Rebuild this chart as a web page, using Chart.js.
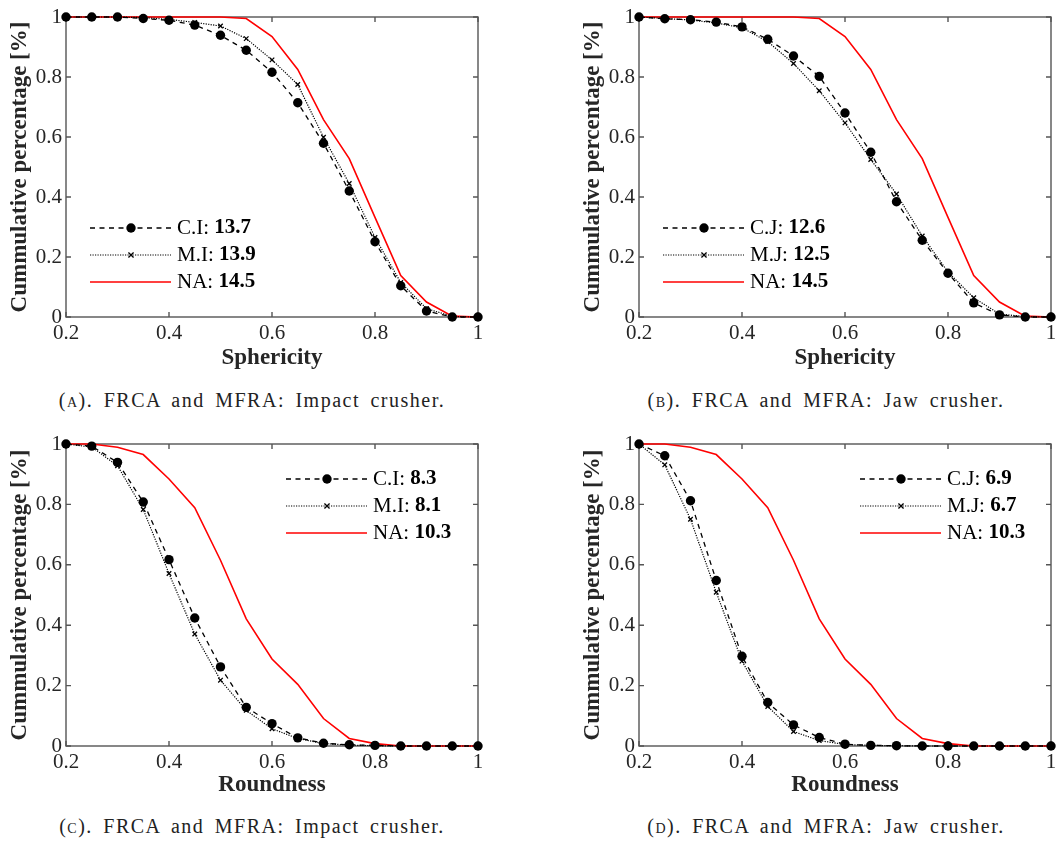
<!DOCTYPE html>
<html>
<head>
<meta charset="utf-8">
<script src="https://cdn.jsdelivr.net/npm/chart.js@4.4.1/dist/chart.umd.min.js"></script>
<style>
html, body { margin: 0; padding: 0; background: #fff; width: 1059px; height: 841px; overflow: hidden; position: relative; }
canvas { position: absolute; }
.cap { position: absolute; width: 530px; text-align: center; font-family: "Liberation Serif", serif; font-size: 20px; line-height: 20px; letter-spacing: 1.5px; word-spacing: 4px; color: #222; white-space: nowrap; }
.sc { font-variant: small-caps; }
</style>
</head>
<body>
<canvas id="cA" width="530" height="380" style="left:0;top:0"></canvas>
<canvas id="cB" width="530" height="380" style="left:573px;top:0"></canvas>
<canvas id="cC" width="530" height="380" style="left:0;top:427px"></canvas>
<canvas id="cD" width="530" height="380" style="left:573px;top:427px"></canvas>
<div class="cap" style="left:-13px;top:390px">(<span class="sc">a</span>). FRCA and MFRA: Impact crusher.</div>
<div class="cap" style="left:561px;top:390px">(<span class="sc">b</span>). FRCA and MFRA: Jaw crusher.</div>
<div class="cap" style="left:-13px;top:816px">(<span class="sc">c</span>). FRCA and MFRA: Impact crusher.</div>
<div class="cap" style="left:561px;top:816px">(<span class="sc">d</span>). FRCA and MFRA: Jaw crusher.</div>
<script>
// shape factor bins
const xs = [0.2, 0.25, 0.3, 0.35, 0.4, 0.45, 0.5, 0.55, 0.6, 0.65, 0.7, 0.75, 0.8, 0.85, 0.9, 0.95, 1.0];

// sphericity, cumulative
const sphCI = [1, 1, 1, 0.995, 0.989, 0.973, 0.939, 0.889, 0.816, 0.714, 0.579, 0.42, 0.251, 0.104, 0.02, 0, 0];
const sphMI = [1, 1, 1, 0.998, 0.992, 0.982, 0.97, 0.928, 0.857, 0.775, 0.599, 0.445, 0.265, 0.115, 0.028, 0.002, 0];
const sphCJ = [1, 0.994, 0.991, 0.983, 0.967, 0.926, 0.87, 0.802, 0.68, 0.549, 0.384, 0.256, 0.146, 0.047, 0.007, 0, 0];
const sphMJ = [1, 0.995, 0.99, 0.98, 0.964, 0.918, 0.845, 0.754, 0.647, 0.525, 0.41, 0.27, 0.15, 0.064, 0.01, 0.001, 0];
const sphNA = [1, 1, 1, 1, 1, 1, 1, 0.995, 0.935, 0.825, 0.658, 0.528, 0.332, 0.138, 0.05, 0.003, 0];

// roundness, cumulative
const rndCI = [1, 0.993, 0.939, 0.808, 0.617, 0.424, 0.262, 0.128, 0.074, 0.027, 0.009, 0.004, 0.002, 0, 0, 0, 0];
const rndMI = [1, 0.99, 0.928, 0.783, 0.571, 0.371, 0.218, 0.118, 0.057, 0.025, 0.008, 0.003, 0.001, 0, 0, 0, 0];
const rndCJ = [1, 0.961, 0.812, 0.548, 0.297, 0.144, 0.07, 0.028, 0.006, 0.002, 0.001, 0, 0, 0, 0, 0, 0];
const rndMJ = [1, 0.931, 0.751, 0.509, 0.281, 0.131, 0.048, 0.018, 0.005, 0.002, 0.001, 0, 0, 0, 0, 0, 0];
const rndNA = [1, 1, 0.989, 0.965, 0.884, 0.789, 0.615, 0.421, 0.288, 0.204, 0.091, 0.025, 0.008, 0, 0, 0, 0];

// legend names and scores
const namesImpact = ['C.I', 'M.I', 'NA'];
const namesJaw = ['C.J', 'M.J', 'NA'];
const scoresA = ['13.7', '13.9', '14.5'];
const scoresB = ['12.6', '12.5', '14.5'];
const scoresC = ['8.3', '8.1', '10.3'];
const scoresD = ['6.9', '6.7', '10.3'];

const xTicks = [0.2, 0.4, 0.6, 0.8, 1];
const yTicks = [0, 0.2, 0.4, 0.6, 0.8, 1];

const serif = '"Liberation Serif", "Times New Roman", serif';
const axisColor = '#262626';
const frameColor = '#555555';

function pts(ys) {
    return xs.map((x, i) => ({x: x, y: ys[i]}))
}

function fmt(v) {
    let r = Math.round(v * 10) / 10
    if (r === 0) return '0'
    if (r === 1) return '1'
    return r.toFixed(1)
}

// box + inward ticks like matlab
const frame = {
    id: 'frame',
    beforeDatasetsDraw(chart) {
        const {ctx, chartArea: a, scales} = chart
        ctx.save()
        ctx.strokeStyle = frameColor
        ctx.lineWidth = 1.4
        ctx.strokeRect(a.left, a.top, a.right - a.left, a.bottom - a.top)
        ctx.beginPath()
        xTicks.forEach(t => {
            let px = scales.x.getPixelForValue(t)
            ctx.moveTo(px, a.bottom); ctx.lineTo(px, a.bottom - 5)
            ctx.moveTo(px, a.top); ctx.lineTo(px, a.top + 5)
        })
        yTicks.forEach(t => {
            let py = scales.y.getPixelForValue(t)
            ctx.moveTo(a.left, py); ctx.lineTo(a.left + 5, py)
            ctx.moveTo(a.right, py); ctx.lineTo(a.right - 5, py)
        })
        ctx.stroke()
        ctx.restore()
    }
}

function marker(ctx, style, x, y, r) {
    ctx.beginPath()
    if (style === 'circle') {
        ctx.arc(x, y, r, 0, Math.PI * 2)
        ctx.fill()
    } else if (style === 'crossRot') {
        ctx.moveTo(x - r * 0.8, y - r * 0.8); ctx.lineTo(x + r * 0.8, y + r * 0.8)
        ctx.moveTo(x - r * 0.8, y + r * 0.8); ctx.lineTo(x + r * 0.8, y - r * 0.8)
        ctx.stroke()
    }
}

const boxLegend = {
    id: 'boxLegend',
    afterDatasetsDraw(chart, args, opts) {
        const {ctx, chartArea: a} = chart
        const x0 = a.left + opts.x
        const y0 = a.top + opts.y
        chart.data.datasets.forEach((ds, i) => {
            let y = y0 + i * 27
            ctx.save()
            ctx.strokeStyle = ds.borderColor
            ctx.fillStyle = ds.borderColor
            ctx.lineWidth = ds.borderWidth
            ctx.setLineDash(ds.borderDash || [])
            ctx.beginPath()
            ctx.moveTo(x0, y); ctx.lineTo(x0 + 81, y)
            ctx.stroke()
            ctx.setLineDash([])
            if (ds.pointRadius > 0) {
                ctx.lineWidth = ds.pointBorderWidth
                marker(ctx, ds.pointStyle, x0 + 41, y, ds.pointRadius)
            }
            ctx.fillStyle = '#000'
            ctx.textBaseline = 'middle'
            ctx.font = '21px ' + serif
            let label = opts.names[i] + ': '
            ctx.fillText(label, x0 + 87, y)
            let w = ctx.measureText(label).width
            ctx.font = 'bold 21px ' + serif
            ctx.fillText(opts.scores[i], x0 + 87 + w, y)
            ctx.restore()
        })
    }
}

function makeChart(id, curves, names, scores, xTitle, xHeight, legendAt) {
    new Chart(document.getElementById(id).getContext('2d'), {
        type: 'line',
        data: {
            datasets: [{
                label: names[0],
                data: pts(curves[0]),
                borderColor: '#000',
                backgroundColor: '#000',
                borderWidth: 1.3,
                borderDash: [5, 4.5],
                pointStyle: 'circle',
                pointRadius: 4.7,
                pointBorderWidth: 0,
                pointBackgroundColor: '#000',
                tension: 0,
                clip: false
            },
            {
                label: names[1],
                data: pts(curves[1]),
                borderColor: '#000',
                backgroundColor: '#000',
                borderWidth: 1.2,
                borderDash: [1.2, 1.3],
                pointStyle: 'crossRot',
                pointRadius: 3.2,
                pointBorderWidth: 1.3,
                tension: 0,
                clip: false
            },
            {
                label: names[2],
                data: pts(curves[2]),
                borderColor: '#ff0000',
                backgroundColor: '#ff0000',
                borderWidth: 1.6,
                pointRadius: 0,
                tension: 0,
                clip: false
            }]
        },
        options: {
            responsive: false,
            animation: false,
            devicePixelRatio: 1,
            layout: {padding: {left: 0, top: 17, right: 52, bottom: 0}},
            scales: {
                x: {
                    type: 'linear',
                    min: 0.2,
                    max: 1,
                    afterFit: s => { s.height = xHeight },
                    afterBuildTicks: s => { s.ticks = xTicks.map(v => ({value: v})) },
                    grid: {display: false, drawTicks: false},
                    border: {display: false},
                    ticks: {
                        padding: 4,
                        maxRotation: 0,
                        color: axisColor,
                        font: {family: serif, size: 21},
                        callback: v => fmt(v)
                    },
                    title: {
                        display: true,
                        text: xTitle,
                        color: axisColor,
                        font: {family: serif, size: 23, weight: 'bold', lineHeight: 1},
                        padding: {top: 0, bottom: 10}
                    }
                },
                y: {
                    min: 0,
                    max: 1,
                    afterFit: s => { s.width = 66 },
                    afterBuildTicks: s => { s.ticks = yTicks.map(v => ({value: v})) },
                    grid: {display: false, drawTicks: false},
                    border: {display: false},
                    ticks: {
                        padding: 4,
                        color: axisColor,
                        font: {family: serif, size: 21},
                        callback: v => fmt(v)
                    },
                    title: {
                        display: true,
                        text: 'Cummulative percentage [%]',
                        color: axisColor,
                        font: {family: serif, size: 23, weight: 'bold', lineHeight: 1},
                        padding: {top: 9, bottom: 0}
                    }
                }
            },
            plugins: {
                legend: {display: false},
                tooltip: {enabled: false},
                boxLegend: {x: legendAt[0], y: legendAt[1], names: names, scores: scores}
            }
        },
        plugins: [frame, boxLegend]
    })
}

makeChart('cA', [sphCI, sphMI, sphNA], namesImpact, scoresA, 'Sphericity', 63, [24, 211])
makeChart('cB', [sphCJ, sphMJ, sphNA], namesJaw, scoresB, 'Sphericity', 63, [24, 211])
makeChart('cC', [rndCI, rndMI, rndNA], namesImpact, scoresC, 'Roundness', 61, [220, 35])
makeChart('cD', [rndCJ, rndMJ, rndNA], namesJaw, scoresD, 'Roundness', 61, [221, 35])
</script>
</body>
</html>
